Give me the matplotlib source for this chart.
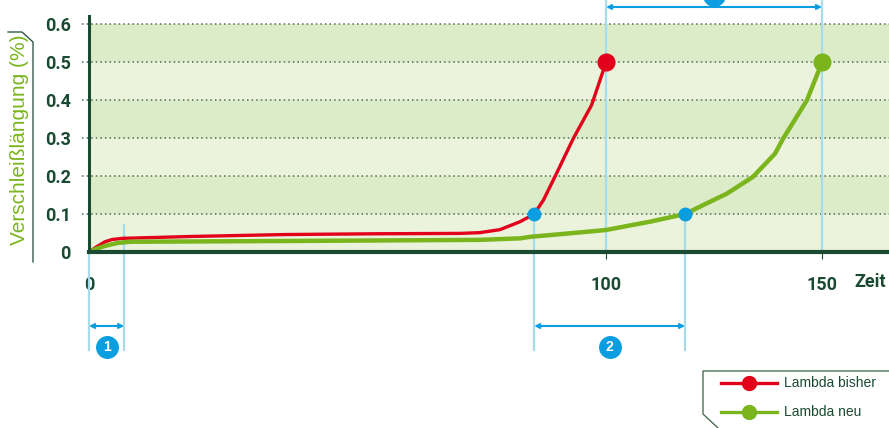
import numpy as np
import matplotlib
matplotlib.use("Agg")
import matplotlib.pyplot as plt
import matplotlib.transforms as mtransforms
from matplotlib.lines import Line2D

W, H = 889, 428

# data (time, elongation %)
red_t = [0, 1.5, 3.1, 4.5, 6.5, 20, 37.9, 55, 71.8, 75.6, 79.5, 83.4, 86.1, 87.9, 90.1, 93.7, 97.2, 100]
red_v = [0, 0.014, 0.027, 0.033, 0.036, 0.041, 0.046, 0.048, 0.049, 0.051, 0.059, 0.080, 0.1, 0.137, 0.198, 0.300, 0.387, 0.5]
green_t = [0, 1.5, 3.1, 5.6, 8.0, 37.9, 75.6, 83.4, 85.3, 92, 100, 110.2, 118.3, 122.9, 128.0, 134.0, 139.1, 141.0, 146.5, 150]
green_v = [0, 0.009, 0.016, 0.024, 0.027, 0.029, 0.032, 0.036, 0.040, 0.048, 0.058, 0.080, 0.1, 0.126, 0.154, 0.198, 0.259, 0.299, 0.400, 0.5]
xticks = [0, 100, 150]
yticks = [0, 0.1, 0.2, 0.3, 0.4, 0.5, 0.6]
ytick_labels = ["0", "0.1", "0.2", "0.3", "0.4", "0.5", "0.6"]
ranges = [(0, 6.8, "1"), (86.1, 118.3, "2"), (100, 150, "")]
legend_labels = ["Lambda bisher", "Lambda neu"]

RED = "#e2001a"
GREEN = "#7ab51d"
DARK = "#1b4a33"
BLUE = "#0a9ee0"
LBLUE = "#a8dcea"

cond = ["Roboto", "DejaVu Sans"]
plain = ["Liberation Sans", "DejaVu Sans"]

def fwd(t):
    t = np.asarray(t, dtype=float)
    return np.where(t <= 100, t * 5.17, 517 + (t - 100) * 4.32)

def inv(p):
    p = np.asarray(p, dtype=float)
    return np.where(p <= 517, p / 5.17, 100 + (p - 517) / 4.32)

def fy(py):
    return 1 - py / H

def fx(px):
    return px / W

fig = plt.figure(figsize=(W / 100, H / 100), dpi=100)
ax = fig.add_axes([fx(89), fy(252), 1 - fx(89), fy(16.4) - fy(252)])
ax.set_xscale("function", functions=(fwd, inv))
ax.set_xlim(0, 165.5)
ax.set_ylim(0, 0.621)
ax.patch.set_alpha(0)

# bands
for i in range(6):
    c = "#ebf3dd" if i % 2 == 0 else "#dcebc8"
    ax.axhspan(i * 0.1, (i + 1) * 0.1, color=c, lw=0, zorder=0)
for y in yticks[1:]:
    ax.plot([-0.009, 1], [y, y], transform=ax.get_yaxis_transform(), color="#4d6e58",
            lw=1.1, ls=(0, (1, 2)), clip_on=False, zorder=1)

trans = mtransforms.blended_transform_factory(ax.transData, fig.transFigure)

# light blue guides
for t, y0, y1 in [(0, 252, 350), (ranges[0][1], 225, 350), (ranges[1][0], 214, 350),
                  (ranges[1][1], 214, 350), (100, 0, 252), (150, 0, 252)]:
    ax.plot([t, t], [fy(y0), fy(y1)], transform=trans, color=LBLUE, lw=1.6,
            clip_on=False, zorder=2)

ax.plot(red_t, red_v, color=RED, lw=2.4, zorder=3, solid_capstyle="round", solid_joinstyle="round")
ax.plot(green_t, green_v, color=GREEN, lw=3.2, zorder=3, solid_capstyle="round", solid_joinstyle="round")
ax.plot(red_t[-1], red_v[-1], "o", color=RED, ms=12, zorder=4, clip_on=False)
ax.plot(green_t[-1], green_v[-1], "o", color=GREEN, ms=12, zorder=4, clip_on=False)
ax.plot([ranges[1][0], ranges[1][1]], [0.1, 0.1], "o", color=BLUE, ms=9, lw=0, zorder=5)

# range arrows + numbered circles
for (t0, t1, lab), ay, cy in zip(ranges, [326, 326, 7], [347, 347, -5]):
    ax.annotate("", xy=(t1, fy(ay)), xytext=(t0, fy(ay)), xycoords=trans, textcoords=trans,
                arrowprops=dict(arrowstyle="<->", color=BLUE, lw=1.5, mutation_scale=7,
                                shrinkA=0, shrinkB=0), annotation_clip=False)
    tm = float(inv((fwd(t0) + fwd(t1)) / 2))
    ax.plot(tm, fy(cy), "o", color=BLUE, ms=15.5, transform=trans, clip_on=False)
    if lab:
        ax.text(tm, fy(cy), lab, transform=trans, color="white", fontsize=10, fontweight="bold",
                ha="center", va="center", family=plain)

# spines and ticks
for s in ["top", "right"]:
    ax.spines[s].set_visible(False)
ax.spines["bottom"].set_color(DARK)
ax.spines["bottom"].set_linewidth(3)
ax.spines["left"].set_color(DARK)
ax.spines["left"].set_linewidth(2.2)
ax.spines["bottom"].set_zorder(6)
ax.spines["left"].set_zorder(6)

ax.set_xticks(xticks)
ax.set_xticklabels([str(t) for t in xticks])
ax.set_yticks(yticks)
ax.set_yticklabels(ytick_labels)
ax.tick_params(axis="x", length=5, width=0.8, color=DARK, pad=12)
ax.tick_params(axis="y", length=0, pad=13)
for lab in ax.get_xticklabels() + ax.get_yticklabels():
    lab.set_family(cond)
    lab.set_fontweight("bold")
    lab.set_fontsize(13)
    lab.set_color(DARK)
ax.xaxis.get_major_ticks()[0].tick1line.set_visible(False)

ax.text(161.1, fy(282), "Zeit", transform=trans, ha="center", va="center", family=cond,
        fontweight="bold", fontsize=13, color=DARK)

# y label with frame
fig.text(fx(20), fy(140), "Verschleißlängung (%)", rotation=90, ha="center", va="center",
         color=GREEN, fontsize=15, family=plain)
fig.add_artist(Line2D([fx(8), fx(22), fx(33), fx(33)], [fy(32), fy(32), fy(42), fy(262)],
                      color=DARK, lw=0.9))

# legend
fig.add_artist(Line2D([fx(889), fx(703), fx(703), fx(718)], [fy(371), fy(371), fy(414), fy(428)],
                      color="#4d6e58", lw=1))
for lab, c, py in zip(legend_labels, [RED, GREEN], [383, 412]):
    fig.add_artist(Line2D([fx(721), fx(777)], [fy(py), fy(py)], color=c, lw=2.4))
    fig.add_artist(Line2D([fx(749)], [fy(py)], marker="o", color=c, ms=10))
    fig.text(fx(784), fy(py), lab, ha="left", va="center", color=DARK, fontsize=10, family=plain)

fig.savefig("out.png", dpi=100)
